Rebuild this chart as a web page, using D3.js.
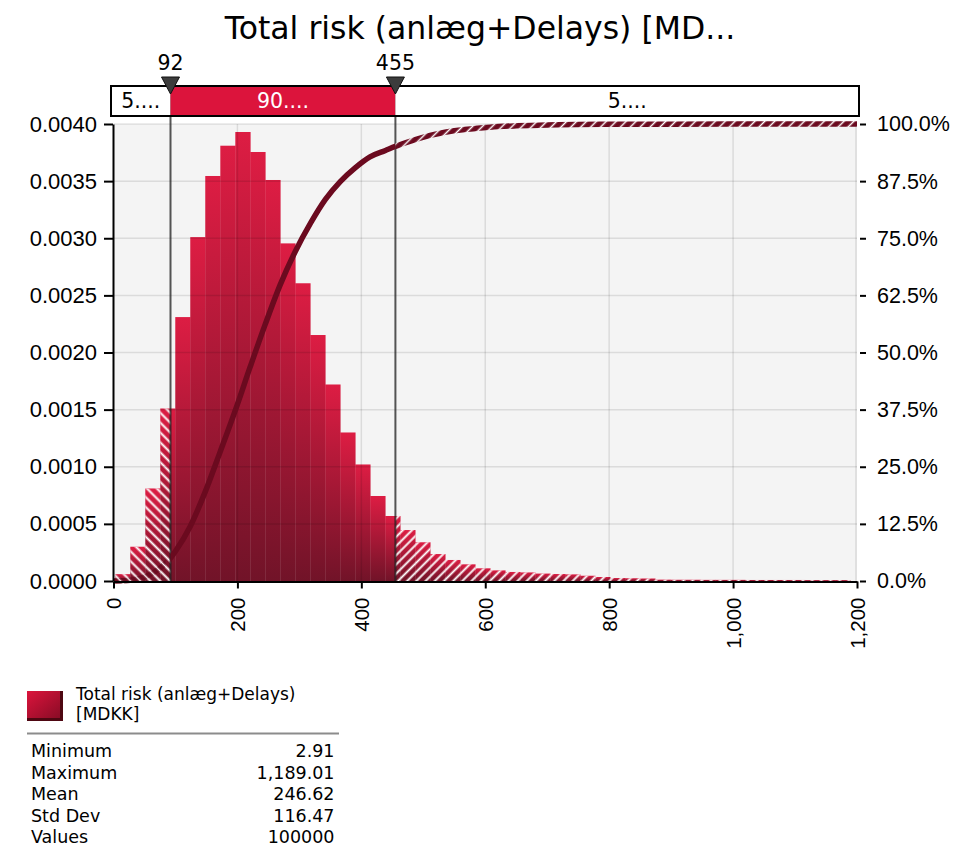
<!DOCTYPE html>
<html>
<head>
<meta charset="utf-8">
<script src="https://cdn.jsdelivr.net/npm/d3@7/dist/d3.min.js"></script>
<style>
  body { margin: 0; background: #fff; }
  svg { font-family: "DejaVu Sans", Verdana, sans-serif; }
</style>
</head>
<body>
<svg id="chart" width="967" height="848"></svg>
<script>
// histogram bins (left edges) and the final right edge
const binEdges = [2.9, 27.1, 51.3, 75.5, 99.7, 123.9, 148.1, 172.4, 196.6, 220.8,
    245.0, 269.2, 293.4, 317.6, 341.8, 366.0, 390.2, 414.4, 438.6, 462.8,
    487.0, 511.2, 535.4, 559.6, 583.9, 608.1, 632.3, 656.5, 680.7, 704.9,
    729.1, 753.3, 777.5, 801.7, 825.9, 850.1, 874.3, 898.5, 922.7, 946.9,
    971.2, 995.4, 1019.6, 1043.8, 1068.0, 1092.2, 1116.4, 1140.6, 1164.8, 1189.0];
const density = [0.00006, 0.00030, 0.00081, 0.00151, 0.00231, 0.00301, 0.003545, 0.00381, 0.00393, 0.003755,
    0.00351, 0.002955, 0.002606, 0.002153, 0.00172, 0.00130, 0.00102, 0.000744, 0.000569, 0.000446,
    0.000339, 0.000236, 0.000184, 0.000146, 0.000111, 0.000093, 0.000079, 0.000075, 0.000065, 0.000061,
    0.000058, 0.000046, 0.000035, 0.000026, 0.000024, 0.000022, 0.000012, 0.000011, 0.000011, 0.00001,
    0.00001, 0.00001, 0.000009, 0.000009, 0.000009, 0.000009, 0.000008, 0.000008, 0.000008];

// cumulative curve
const cdfX = [0, 27, 51, 75, 92, 100, 124, 148, 172, 197, 221, 245, 269, 293, 318, 342, 366, 390, 414,
    439, 455, 487, 511, 535, 560, 584, 608, 650, 700, 800, 900, 1000, 1200];
const cdfP = [0, 0.0015, 0.009, 0.028, 0.05, 0.065, 0.12, 0.195, 0.282, 0.375, 0.47, 0.562, 0.648, 0.72,
    0.783, 0.835, 0.874, 0.904, 0.928, 0.942, 0.951, 0.966, 0.975, 0.982, 0.987, 0.990, 0.993, 0.996,
    0.998, 0.9993, 0.9997, 0.9999, 1];

const leftTicks = [0, 0.0005, 0.001, 0.0015, 0.002, 0.0025, 0.003, 0.0035, 0.004];
const rightTicks = [0, 0.125, 0.25, 0.375, 0.5, 0.625, 0.75, 0.875, 1];
const xTicks = [0, 200, 400, 600, 800, 1000, 1200];

const lowMark = 92, highMark = 455;
const bandLabels = ["5....", "90....", "5...."];
const titleText = "Total risk (anlæg+Delays) [MD...";
const legendLines = ["Total risk (anlæg+Delays)", "[MDKK]"];
const statNames = ["Minimum", "Maximum", "Mean", "Std Dev", "Values"];
const statValues = ["2.91", "1,189.01", "246.62", "116.47", "100000"];

const svg = d3.select("#chart");
const defs = svg.append("defs");

const x = d3.scaleLinear().domain([0, 1200]).range([113.5, 857]);
const y = d3.scaleLinear().domain([0, 0.004]).range([581, 124]);
const yR = d3.scaleLinear().domain([0, 1]).range([581, 124]);

// bar gradient, top bright to bottom dark
const grad = defs.append("linearGradient").attr("id", "barGrad")
    .attr("x1", 0).attr("y1", 0).attr("x2", 0).attr("y2", 1);
grad.append("stop").attr("offset", "0%").attr("stop-color", "#dc143c");
grad.append("stop").attr("offset", "100%").attr("stop-color", "#6c0a20");

const swatchGrad = defs.append("linearGradient").attr("id", "swatchGrad")
    .attr("x1", 0).attr("y1", 0).attr("x2", 1).attr("y2", 1);
swatchGrad.append("stop").attr("offset", "0%").attr("stop-color", "#dc143c");
swatchGrad.append("stop").attr("offset", "100%").attr("stop-color", "#8a0c26");

function hatch(id, angle, bg, size, lw) {
    const p = defs.append("pattern").attr("id", id)
        .attr("patternUnits", "userSpaceOnUse")
        .attr("width", size).attr("height", size)
        .attr("patternTransform", `rotate(${angle})`);
    if (bg) p.append("rect").attr("width", size).attr("height", size).attr("fill", bg);
    p.append("line").attr("x1", size / 2).attr("x2", size / 2).attr("y1", 0).attr("y2", size)
        .attr("stroke", "#fff").attr("stroke-width", lw);
}
hatch("hatchLow", -45, null, 7, 2);
hatch("hatchHigh", 45, null, 6.5, 1.9);
hatch("lineLow", -45, "#6b0a1f", 7, 1.5);
hatch("lineHigh", 45, "#6b0a1f", 7, 1.5);

// plot background
svg.append("rect")
    .attr("x", x(0)).attr("y", y(0.004))
    .attr("width", x(1200) - x(0)).attr("height", y(0) - y(0.004))
    .attr("fill", "#f4f4f4");
svg.append("line")
    .attr("x1", x(1200) - 1).attr("x2", x(1200) - 1).attr("y1", y(0.004)).attr("y2", y(0))
    .attr("stroke", "#dadada").attr("stroke-width", 1.5);

// split bins at the two marks
const regions = [
    { id: "low", a: 0, b: lowMark },
    { id: "mid", a: lowMark, b: highMark },
    { id: "high", a: highMark, b: 1200 }
];
const pieces = [];
density.forEach((d, i) => {
    regions.forEach(r => {
        const a = Math.max(binEdges[i], r.a), b = Math.min(binEdges[i + 1], r.b);
        if (b > a) pieces.push({ a, b, d, region: r.id });
    });
});

const bars = svg.append("g");
bars.selectAll("rect.bar")
    .data(pieces)
    .join("rect")
    .attr("class", "bar")
    .attr("x", d => x(d.a))
    .attr("width", d => x(d.b) - x(d.a) + 0.3)
    .attr("y", d => y(d.d))
    .attr("height", d => y(0) - y(d.d))
    .attr("fill", "url(#barGrad)")
    .attr("fill-opacity", 0.96);

bars.selectAll("rect.hatch")
    .data(pieces.filter(p => p.region !== "mid"))
    .join("rect")
    .attr("class", "hatch")
    .attr("x", d => x(d.a))
    .attr("width", d => x(d.b) - x(d.a) + 0.3)
    .attr("y", d => y(d.d))
    .attr("height", d => y(0) - y(d.d))
    .attr("fill", d => d.region === "low" ? "url(#hatchLow)" : "url(#hatchHigh)");

// grid on top, faint
const grid = svg.append("g").attr("stroke", "rgba(0,0,0,0.1)").attr("stroke-width", 1.5);
grid.selectAll("line.h")
    .data(leftTicks.slice(1, -1))
    .join("line").attr("class", "h")
    .attr("x1", x(0)).attr("x2", x(1200))
    .attr("y1", d => y(d)).attr("y2", d => y(d));
grid.selectAll("line.v")
    .data(xTicks.slice(1, -1))
    .join("line").attr("class", "v")
    .attr("x1", d => x(d)).attr("x2", d => x(d))
    .attr("y1", y(0.004)).attr("y2", y(0));
grid.append("line")
    .attr("x1", x(0)).attr("x2", x(1200))
    .attr("y1", y(0.004)).attr("y2", y(0.004));

// cumulative curve, clipped into three parts
const cdfPts = cdfX.map((v, i) => [v, cdfP[i]]);
const cdfLine = d3.line().x(d => x(d[0])).y(d => yR(d[1])).curve(d3.curveMonotoneX);
regions.forEach(r => {
    defs.append("clipPath").attr("id", "clip-" + r.id)
        .append("rect")
        .attr("x", x(r.a) - (r.id === "low" ? 5 : 0))
        .attr("width", x(r.b) - x(r.a) + (r.id === "high" ? 5 : 0))
        .attr("y", 100).attr("height", 500);
});
// mark lines
svg.append("g").selectAll("line")
    .data([lowMark, highMark])
    .join("line")
    .attr("x1", d => x(d)).attr("x2", d => x(d))
    .attr("y1", 87).attr("y2", y(0))
    .attr("stroke", "rgba(30,30,30,0.75)").attr("stroke-width", 2);

svg.append("g").selectAll("path")
    .data(regions)
    .join("path")
    .attr("d", cdfLine(cdfPts))
    .attr("clip-path", r => `url(#clip-${r.id})`)
    .attr("fill", "none")
    .attr("stroke", r => r.id === "mid" ? "#6b0a1f" : (r.id === "low" ? "url(#lineLow)" : "url(#lineHigh)"))
    .attr("stroke-width", 5.5);

// axes
const gLeft = svg.append("g").attr("transform", `translate(${x(0) - 0.5},0)`)
    .call(d3.axisLeft(y).tickValues(leftTicks).tickFormat(d3.format(".4f")).tickSize(9).tickSizeOuter(0).tickPadding(7));
gLeft.select(".domain").attr("stroke-width", 2).attr("stroke", "#000");
gLeft.selectAll(".tick line").attr("stroke-width", 2);
gLeft.selectAll("text").attr("font-size", 22).attr("fill", "#000").attr("font-family", null);

const gRight = svg.append("g").attr("transform", `translate(${x(1200)},0)`)
    .call(d3.axisRight(yR).tickValues(rightTicks).tickFormat(d => (d * 100).toFixed(1) + "%").tickSize(9).tickSizeOuter(0).tickPadding(11));
gRight.select(".domain").remove();
gRight.selectAll(".tick line").attr("x1", 3).attr("stroke-width", 2);
gRight.selectAll("text").attr("font-size", 21.5).attr("fill", "#000").attr("font-family", null);

const gBottom = svg.append("g").attr("transform", `translate(0,${y(0) + 0.5})`)
    .call(d3.axisBottom(x).tickValues(xTicks).tickFormat(d3.format(",")).tickSize(7).tickSizeOuter(0));
gBottom.select(".domain").attr("stroke-width", 2).attr("stroke", "#000");
gBottom.selectAll(".tick line").attr("stroke-width", 2);
gBottom.selectAll("text")
    .attr("font-size", 20.5).attr("fill", "#000").attr("font-family", null)
    .attr("transform", "rotate(-90)")
    .attr("text-anchor", "end")
    .attr("x", -16).attr("y", 0).attr("dy", "0.36em");

// title
svg.append("text")
    .attr("x", 480).attr("y", 39)
    .attr("text-anchor", "middle")
    .attr("font-size", 31.5)
    .text(titleText);

// percentile band on top
const bandY = 86, bandH = 30;
const bandEdges = [x(0) - 2.5, x(lowMark), x(highMark), x(1200) + 2];
const band = svg.append("g");
band.selectAll("rect")
    .data(bandLabels)
    .join("rect")
    .attr("x", (d, i) => bandEdges[i])
    .attr("width", (d, i) => bandEdges[i + 1] - bandEdges[i])
    .attr("y", bandY).attr("height", bandH)
    .attr("fill", (d, i) => i === 1 ? "#dc143c" : "#fff");
band.append("rect")
    .attr("x", bandEdges[0]).attr("width", bandEdges[3] - bandEdges[0])
    .attr("y", bandY).attr("height", bandH)
    .attr("fill", "none").attr("stroke", "#000").attr("stroke-width", 2);
band.selectAll("text")
    .data(bandLabels)
    .join("text")
    .attr("x", (d, i) => (bandEdges[i] + bandEdges[i + 1]) / 2)
    .attr("y", bandY + 22)
    .attr("text-anchor", "middle")
    .attr("font-size", 20.5)
    .attr("fill", (d, i) => i === 1 ? "#fff" : "#000")
    .text(d => d);

// markers
const markers = svg.append("g").selectAll("g")
    .data([lowMark, highMark])
    .join("g")
    .attr("transform", d => `translate(${x(d)},0)`);
markers.append("path")
    .attr("d", "M-9,77 L9,77 L0,94 Z")
    .attr("fill", "#3c3c3c").attr("stroke", "#111").attr("stroke-width", 1);
markers.append("text")
    .attr("y", 70)
    .attr("text-anchor", "middle")
    .attr("font-size", 20.5)
    .text(d => d);

// legend
const legend = svg.append("g");
legend.append("rect").attr("x", 27).attr("y", 691).attr("width", 36).attr("height", 30).attr("fill", "#4e0712");
legend.append("rect").attr("x", 27).attr("y", 691).attr("width", 33).attr("height", 27).attr("fill", "url(#swatchGrad)");
legend.selectAll("text.name")
    .data(legendLines)
    .join("text").attr("class", "name")
    .attr("x", 76).attr("y", (d, i) => 700 + i * 20)
    .attr("font-size", 17)
    .text(d => d);
legend.append("line")
    .attr("x1", 27).attr("x2", 339).attr("y1", 733.5).attr("y2", 733.5)
    .attr("stroke", "#8c8c8c").attr("stroke-width", 2);
legend.selectAll("text.stat")
    .data(statNames)
    .join("text").attr("class", "stat")
    .attr("x", 31).attr("y", (d, i) => 757 + i * 21.6)
    .attr("font-size", 17.5)
    .text(d => d);
legend.selectAll("text.val")
    .data(statValues)
    .join("text").attr("class", "val")
    .attr("x", 334.5).attr("y", (d, i) => 757 + i * 21.6)
    .attr("text-anchor", "end")
    .attr("font-size", 17.5)
    .text(d => d);
</script>
</body>
</html>
